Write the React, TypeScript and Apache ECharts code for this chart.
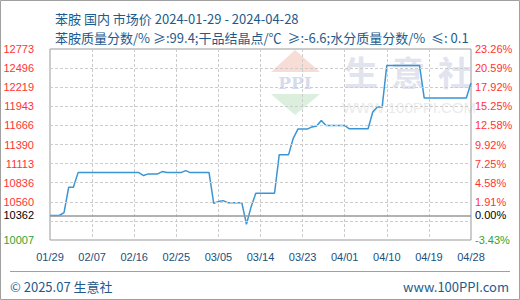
import React, { useEffect, useRef } from "react";
import * as echarts from "echarts";

// Trading dates, 2024-01-29 .. 2024-04-28
const DATES = [
  "01/29", "01/30", "01/31",
  "02/01", "02/02", "02/03", "02/04", "02/05", "02/06", "02/07", "02/08", "02/09", "02/10",
  "02/11", "02/12", "02/13", "02/14", "02/15", "02/16", "02/17", "02/18", "02/19", "02/20",
  "02/21", "02/22", "02/23", "02/24", "02/25", "02/26", "02/27", "02/28", "02/29",
  "03/01", "03/02", "03/03", "03/04", "03/05", "03/06", "03/07", "03/08", "03/09", "03/10",
  "03/11", "03/12", "03/13", "03/14", "03/15", "03/16", "03/17", "03/18", "03/19", "03/20",
  "03/21", "03/22", "03/23", "03/24", "03/25", "03/26", "03/27", "03/28", "03/29", "03/30", "03/31",
  "04/01", "04/02", "04/03", "04/04", "04/05", "04/06", "04/07", "04/08", "04/09", "04/10",
  "04/11", "04/12", "04/13", "04/14", "04/15", "04/16", "04/17", "04/18", "04/19", "04/20",
  "04/21", "04/22", "04/23", "04/24", "04/25", "04/26", "04/27", "04/28",
];

// Aniline domestic market price, yuan/ton
const PRICES = [
  10362, 10362, 10362,
  10403, 10771, 10771, 10983, 10983, 10983, 10983, 10983, 10983, 10983,
  10983, 10983, 10983, 10983, 10983, 10983, 10983, 10940, 10964, 10964,
  10964, 10998, 10983, 10983, 10983, 10983, 11012, 10983, 10983,
  10983, 10983, 10983, 10539, 10563, 10577, 10548, 10548, 10548, 10548,
  10235, 10490, 10684, 10684, 10684, 10684, 10684, 11240, 11240, 11240,
  11480, 11613, 11613, 11613, 11645, 11658, 11737, 11665, 11665, 11665, 11665,
  11665, 11617, 11617, 11617, 11617, 11617, 11860, 11932, 11932, 12535,
  12535, 12535, 12535, 12535, 12535, 12535, 12535, 12062, 12062, 12062,
  12062, 12062, 12062, 12062, 12062, 12062, 12062, 12280,
];

const BASE_PRICE = 10362;
const Y_MIN = 10007;
const Y_MAX = 12773;

// Left axis tick labels (price) and right axis tick labels (change vs base)
const LEFT_LABELS = ["10007", "10362", "10560", "10836", "11113", "11390", "11666", "11943", "12219", "12496", "12773"];
const RIGHT_LABELS = ["-3.43%", "0.00%", "1.91%", "4.58%", "7.25%", "9.92%", "12.58%", "15.25%", "17.92%", "20.59%", "23.26%"];

// Horizontal dashed grid levels
const GRID_LEVELS = [10283.6, 10560.2, 10836.8, 11113.4, 11390, 11666.6, 11943.2, 12219.8, 12496.4];

const TITLE = "苯胺 国内 市场价 2024-01-29 - 2024-04-28";
const SUBTITLE = "苯胺质量分数/% ≥:99.4;干品结晶点/℃  ≥:-6.6;水分质量分数/%  ≤: 0.1";

const CJK = '"Noto Sans CJK SC", "Noto Sans", sans-serif';
const NUM = '"Liberation Sans", Arial, sans-serif';
const BLUE_TEXT = "#1e5b8c";

const labelRich = {
  up: { color: "#ff3333", fontSize: 11, fontFamily: NUM },
  base: { color: "#000000", fontSize: 11, fontFamily: NUM },
  down: { color: "#2fa52f", fontSize: 11, fontFamily: NUM },
};

function styleKey(v: number) {
  if (Math.abs(v - BASE_PRICE) < 1) return "base";
  return v > BASE_PRICE ? "up" : "down";
}

export default function App() {
  const ref = useRef<HTMLDivElement>(null);

  useEffect(() => {
    if (!ref.current) return;
    const chart = echarts.init(ref.current, null, { renderer: "svg" });

    const leftValues = LEFT_LABELS.map((s) => Number(s));

    const option: any = {
      animation: false,
      backgroundColor: "#ffffff",
      title: [
        {
          left: 50,
          top: 7,
          text: TITLE,
          textStyle: { fontSize: 13, fontWeight: "normal", color: BLUE_TEXT, fontFamily: CJK },
        },
        {
          left: 50,
          top: 26,
          text: SUBTITLE,
          textStyle: { fontSize: 13, fontWeight: "normal", color: BLUE_TEXT, fontFamily: CJK },
        },
      ],
      grid: {
        left: 50,
        right: 49,
        top: 49,
        bottom: 60,
        show: true,
        borderColor: "#999999",
        borderWidth: 1,
        backgroundColor: "transparent",
      },
      xAxis: {
        type: "category",
        data: DATES,
        boundaryGap: false,
        axisLine: { show: false },
        axisTick: { show: false },
        axisLabel: {
          interval: (i: number) => i % 9 === 0,
          color: "#1a4f7e",
          fontSize: 11,
          fontFamily: NUM,
          margin: 11,
        },
        splitLine: {
          show: true,
          interval: (i: number) => i % 9 === 0 && i !== 0 && i !== DATES.length - 1,
          lineStyle: { color: "#cccccc", type: [3, 2], width: 1 },
        },
      },
      yAxis: [
        {
          type: "value",
          min: Y_MIN,
          max: Y_MAX,
          axisLine: { show: false },
          axisTick: { show: false },
          splitLine: { show: false },
          axisLabel: {
            customValues: leftValues,
            margin: 16,
            formatter: (v: number) => {
              const i = leftValues.findIndex((x) => Math.abs(x - v) < 0.5);
              return i < 0 ? "" : `{${styleKey(v)}|${LEFT_LABELS[i]}}`;
            },
            rich: labelRich,
          },
        },
        {
          type: "value",
          position: "right",
          min: Y_MIN,
          max: Y_MAX,
          axisLine: { show: false },
          axisTick: { show: false },
          splitLine: { show: false },
          axisLabel: {
            customValues: leftValues,
            margin: 4,
            formatter: (v: number) => {
              const i = leftValues.findIndex((x) => Math.abs(x - v) < 0.5);
              return i < 0 ? "" : `{${styleKey(v)}|${RIGHT_LABELS[i]}}`;
            },
            rich: labelRich,
          },
        },
      ],
      series: [
        {
          // grid levels and base-price line
          type: "line",
          data: [],
          z: 1,
          silent: true,
          markLine: {
            silent: true,
            symbol: ["none", "none"],
            label: { show: false },
            emphasis: { disabled: true },
            data: [
              ...GRID_LEVELS.map((v) => ({
                yAxis: v,
                lineStyle: { type: [3, 2], color: "#cccccc", width: 1 },
              })),
              { yAxis: BASE_PRICE, lineStyle: { type: "solid", color: "#999999", width: 1.5 } },
            ],
          },
        },
        {
          type: "line",
          data: PRICES,
          z: 3,
          symbol: "none",
          silent: true,
          lineStyle: { color: "#3a95d5", width: 1.5 },
        },
      ],
      graphic: [
        // watermark logo
        {
          type: "polygon",
          z: -1,
          silent: true,
          shape: { points: [[295, 50], [271, 72], [320, 72]] },
          style: { fill: "#f8dcd6" },
        },
        {
          type: "text",
          z: -1,
          silent: true,
          x: 295,
          y: 83,
          style: {
            text: "PPI",
            fontSize: 17,
            fontWeight: "bold",
            fontFamily: '"DejaVu Serif", serif',
            fill: "#d6dcec",
            align: "center",
            verticalAlign: "middle",
          },
        },
        {
          type: "polygon",
          z: -1,
          silent: true,
          shape: { points: [[271, 94], [320, 94], [295, 115]] },
          style: { fill: "#dcefdf" },
        },
        ...["生", "意", "社"].map((ch, i) => ({
          type: "text",
          z: -1,
          silent: true,
          x: 361 + i * 47,
          y: 71,
          style: {
            text: ch,
            fontSize: 34,
            fontWeight: "bold",
            fontFamily: CJK,
            fill: "#e1e4ee",
            align: "center",
            verticalAlign: "middle",
          },
        })),
        {
          type: "text",
          z: -1,
          silent: true,
          x: 409,
          y: 107,
          style: {
            text: "WWW.100PPI.COM",
            fontSize: 15,
            fontFamily: NUM,
            fill: "#ebebeb",
            align: "center",
            verticalAlign: "middle",
          },
        },
        // footer
        {
          type: "line",
          silent: true,
          shape: { x1: 10, y1: 271.5, x2: 510, y2: 271.5 },
          style: { stroke: "#a0a0a0", lineWidth: 1 },
        },
        {
          type: "text",
          silent: true,
          x: 10,
          y: 286,
          style: {
            text: "© 2025.07 生意社",
            fontSize: 13,
            fontFamily: CJK,
            fill: BLUE_TEXT,
            align: "left",
            verticalAlign: "middle",
          },
        },
        {
          type: "text",
          silent: true,
          x: 509,
          y: 286,
          style: {
            text: "www.100PPI.com",
            fontSize: 13,
            fontFamily: CJK,
            fill: BLUE_TEXT,
            align: "right",
            verticalAlign: "middle",
          },
        },
        // outer frame
        {
          type: "rect",
          silent: true,
          shape: { x: 0.5, y: 0.5, width: 519, height: 299 },
          style: { fill: "none", stroke: "#a0a0a0", lineWidth: 1 },
        },
      ],
    };

    chart.setOption(option);
    return () => chart.dispose();
  }, []);

  return (
    <div
      ref={ref}
      style={{ position: "absolute", left: 0, top: 0, width: 520, height: 300 }}
    />
  );
}
